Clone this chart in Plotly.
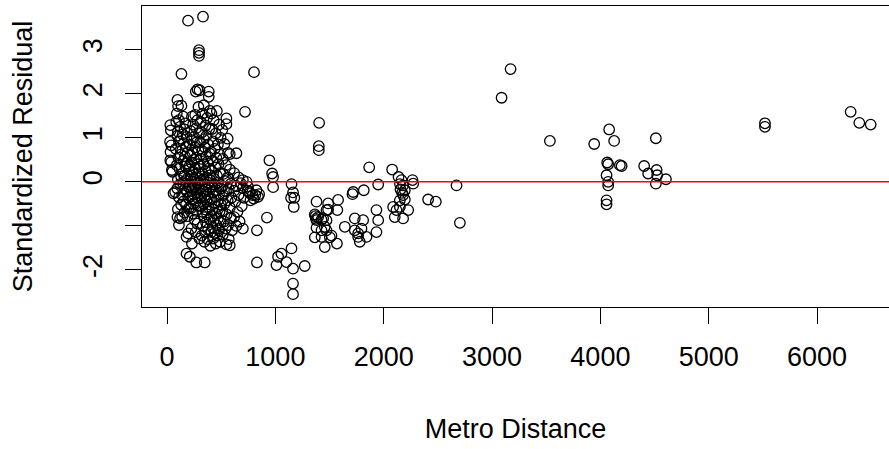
import plotly.graph_objects as go

# Standardized residuals against metro distance, grouped by distance band
core_x = [30, 35, 28, 40, 32, 30, 45, 38, 50, 60, 75,
          96, 102, 90, 110, 85, 120, 100, 95, 130, 110, 80, 125, 105, 90, 115, 130, 100, 120, 95, 110, 130, 100, 96, 120, 140, 110,
          133, 133, 150, 170, 160, 145, 180, 155, 175, 140, 190, 165, 150, 185, 170, 200, 145, 160, 190, 175, 150, 200, 165, 185, 140, 195, 155, 175, 200, 160, 190, 180, 195, 180, 210, 194,
          281, 265, 295, 295, 295, 290, 260, 230, 280, 240, 270, 220, 295, 250, 230, 275, 210, 260, 290, 235, 215, 270, 250, 225, 285, 205, 260, 240, 290, 220, 270, 250, 230, 280, 210, 260, 240, 295, 225, 275, 250, 215, 285, 235, 265, 245, 290, 220, 270, 240, 255, 280, 225, 265, 300, 230, 348, 270,
          332, 385, 385, 300, 340, 395, 330, 370, 310, 355, 390, 320, 365, 340, 305, 380, 350, 325, 395, 360, 315, 375, 340, 305, 385, 355, 325, 395, 365, 335, 310, 380, 350, 320, 390, 360, 330, 305, 375, 345, 315, 395, 365, 335, 310, 385, 355, 325, 370, 340, 395, 360, 330, 380, 350, 320, 375, 345, 400,
          410, 460, 430, 480, 415, 450, 495, 425, 470, 440, 405, 485, 455, 420, 475, 445, 410, 490, 460, 430, 400, 470, 440, 415, 495, 455, 425, 480, 445, 410, 470, 435, 500, 460, 420, 485, 445, 410, 470, 430, 495, 455, 420, 480, 440, 465, 425, 490, 450, 410, 475,
          548, 548, 510, 560, 530, 563, 579, 515, 545, 580, 520, 560, 535, 590, 510, 570, 545, 520, 595, 560, 530, 580, 510, 550, 590, 525, 565, 540, 600, 515, 570, 548, 579,
          640, 620, 660, 700, 680, 640, 620, 700, 660, 710, 630, 690, 650, 620, 670, 640, 700, 720]
core_y = [1.29, 1.17, 0.91, 0.83, 0.68, 0.49, 0.27, 0.45, 0.23, -0.26, -0.23,
          1.86, 1.72, 1.55, 1.40, 1.36, 1.25, 1.14, 1.05, 0.98, 0.92, 0.75, 0.62, 0.55, 0.38, 0.30, 0.12, 0.05, -0.05, -0.15, -0.35, -0.52, -0.62, -0.80, -0.83, -0.80, -0.98,
          2.45, 1.73, 1.48, 1.33, 1.19, 1.08, 1.02, 0.88, 0.80, 0.72, 0.66, 0.58, 0.48, 0.42, 0.35, 0.28, 0.20, 0.14, 0.08, 0.02, -0.04, -0.10, -0.16, -0.22, -0.30, -0.36, -0.44, -0.52, -0.60, -0.70, -0.78, -1.25, -1.17, -1.63, -1.70, 3.66,
          2.10, 2.05, 2.99, 2.93, 2.86, 1.70, 1.52, 1.48, 1.40, 1.30, 1.22, 1.15, 1.10, 1.02, 0.95, 0.90, 0.84, 0.78, 0.72, 0.66, 0.60, 0.55, 0.50, 0.44, 0.40, 0.35, 0.30, 0.24, 0.20, 0.15, 0.10, 0.05, 0.00, -0.03, -0.07, -0.10, -0.14, -0.18, -0.21, -0.25, -0.29, -0.33, -0.37, -0.41, -0.46, -0.50, -0.55, -0.60, -0.66, -0.72, -0.86, -0.95, -1.06, -1.14, -1.29, -1.40, -1.83, -1.83,
          3.75, 2.05, 1.93, 2.08, 1.74, 1.61, 1.55, 1.45, 1.36, 1.28, 1.20, 1.12, 1.05, 0.97, 0.90, 0.85, 0.78, 0.70, 0.64, 0.58, 0.52, 0.46, 0.40, 0.35, 0.30, 0.25, 0.20, 0.15, 0.10, 0.06, 0.02, -0.02, -0.06, -0.10, -0.13, -0.17, -0.21, -0.25, -0.28, -0.32, -0.36, -0.40, -0.44, -0.49, -0.54, -0.58, -0.63, -0.68, -0.74, -0.80, -0.86, -0.92, -1.00, -1.08, -1.14, -1.22, -1.30, -1.36, -1.45,
          1.55, 1.61, 1.40, 1.30, 1.20, 1.10, 1.00, 0.92, 0.85, 0.75, 0.68, 0.62, 0.55, 0.48, 0.40, 0.33, 0.26, 0.20, 0.14, 0.08, 0.03, -0.02, -0.06, -0.11, -0.15, -0.19, -0.24, -0.28, -0.33, -0.38, -0.42, -0.47, -0.52, -0.57, -0.62, -0.67, -0.72, -0.78, -0.83, -0.88, -0.93, -0.98, -1.04, -1.10, -1.16, -1.22, -1.29, -1.36, -1.40, -1.14, -1.06,
          1.44, 1.31, 1.18, 0.98, 0.86, 0.66, 0.63, 0.52, 0.38, 0.28, 0.18, 0.10, 0.02, -0.04, -0.10, -0.16, -0.22, -0.30, -0.36, -0.42, -0.50, -0.58, -0.66, -0.74, -0.82, -0.90, -0.98, -1.06, -1.10, -1.20, -1.30, -1.42, -1.44,
          0.65, 0.20, 0.10, 0.04, -0.03, -0.10, -0.20, -0.14, -0.30, -0.36, -0.45, -0.55, -0.68, -0.80, -0.90, -1.00, -1.06, 1.59]

mid_x = [748, 764, 825, 840, 760, 790, 770, 800, 815, 745, 735, 850, 803, 830, 830,
         922, 945, 970, 979, 979,
         1149, 1163, 1145, 1175, 1170,
         1149, 1056, 1025, 1010, 1102, 1163, 1271, 1163, 1163]
mid_y = [-0.11, -0.26, -0.19, -0.34, -0.23, -0.30, -0.42, -0.38, -0.30, -0.20, 0.00, -0.28, 2.49, -1.10, -1.83,
         -0.81, 0.49, 0.19, 0.11, -0.12,
         -0.05, -0.24, -0.36, -0.36, -0.57,
         -1.51, -1.63, -1.70, -1.89, -1.82, -1.97, -1.91, -2.31, -2.55]

band14_x = [1404, 1401, 1401,
            1380, 1487, 1579, 1472, 1572, 1487, 1364, 1370, 1375, 1380, 1395, 1426, 1441, 1472,
            1380, 1456, 1426, 1472, 1364, 1426, 1503, 1518, 1456, 1568]
band14_y = [1.34, 0.81, 0.72,
            -0.45, -0.49, -0.41, -0.64, -0.64, -0.63, -0.74, -0.78, -0.84, -0.87, -0.80, -0.86, -0.83, -0.87,
            -1.04, -1.02, -1.10, -1.10, -1.26, -1.25, -1.26, -1.22, -1.48, -1.40]

band19_x = [1718, 1816, 1712, 1641, 1733, 1810, 1733, 1795, 1764, 1841, 1779, 1933, 1933, 1949, 1866, 1949, 1764,
            2078, 2137, 2164, 2155, 2195, 2266, 2272, 2179, 2087, 2118, 2149, 2102, 2179, 2226, 2149, 2195, 2179, 2150, 2170,
            2410, 2481, 2672, 2703]
band19_y = [-0.23, -0.19, -0.28, -1.02, -0.83, -0.87, -1.10, -1.06, -1.25, -1.25, -1.36, -0.64, -1.14, -0.87, 0.33, -0.06, -1.17,
            0.28, 0.11, 0.04, -0.17, -0.19, 0.04, -0.04, -0.08, -0.57, -0.64, -0.57, -0.80, -0.83, -0.64, -0.42, -0.40, -0.30, -0.05, -0.25,
            -0.40, -0.45, -0.08, -0.93]

far_x = [3088, 3171, 3534, 3943,
         4081, 4127, 4063, 4072, 4057, 4072, 4072, 4196, 4180, 4057, 4057,
         4404, 4512, 4441, 4519, 4524, 4512, 4605,
         5519, 5519, 6310, 6390, 6495]
far_y = [1.91, 2.56, 0.93, 0.86,
         1.19, 0.93, 0.44, 0.40, 0.15, 0.00, -0.08, 0.36, 0.38, -0.42, -0.51,
         0.36, 0.99, 0.19, 0.27, 0.15, -0.04, 0.06,
         1.33, 1.25, 1.59, 1.34, 1.30]

x_ticks = [0, 1000, 2000, 3000, 4000, 5000, 6000]
y_ticks = [-2, -1, 0, 1, 2, 3]
y_tick_text = ["-2", "", "0", "1", "2", "3"]

dist = core_x + mid_x + band14_x + band19_x + far_x
resid = core_y + mid_y + band14_y + band19_y + far_y

FONT = "Liberation Sans, Arial, sans-serif"

fig = go.Figure()
fig.add_trace(go.Scatter(
    x=dist, y=resid, mode="markers",
    marker=dict(symbol="circle-open", size=10.5, color="black", line=dict(width=1.3, color="black")),
    showlegend=False, hoverinfo="x+y",
))

# horizontal reference line at zero residual
fig.add_shape(type="line", xref="paper", x0=0, x1=1, yref="y", y0=0, y1=0,
              line=dict(color="#ff0000", width=1.5))

fig.update_layout(
    width=889, height=449,
    margin=dict(l=142, r=0, t=6, b=142),
    paper_bgcolor="white", plot_bgcolor="white",
    font=dict(family=FONT, size=27, color="black"),
    xaxis=dict(
        range=[-231, 6664], tickvals=x_ticks, ticktext=[str(v) for v in x_ticks],
        showgrid=False, zeroline=False, showline=True, mirror=True,
        linecolor="black", linewidth=1.3,
        ticks="outside", ticklen=16, tickwidth=1.3, tickcolor="black",
        ticklabelstandoff=9,
        title=dict(text="Metro Distance", standoff=48, font=dict(size=27)),
    ),
    yaxis=dict(
        range=[-2.841, 3.993], tickvals=y_ticks, ticktext=y_tick_text,
        tickangle=-90,
        showgrid=False, zeroline=False, showline=True, mirror=False,
        linecolor="black", linewidth=1.3,
        ticks="outside", ticklen=16, tickwidth=1.3, tickcolor="black",
        ticklabelstandoff=12,
        title=dict(text="Standardized Residual", standoff=37, font=dict(size=27)),
    ),
)

fig.write_html("out.html")
